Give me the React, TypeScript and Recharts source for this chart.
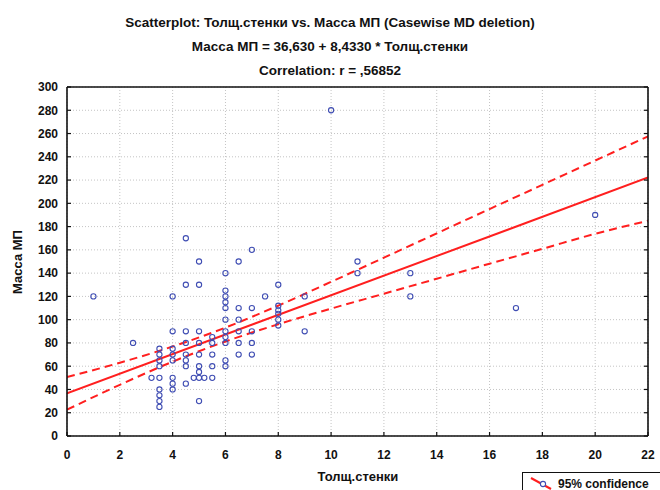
import { CartesianGrid, ComposedChart, Line, Scatter, XAxis, YAxis } from "recharts";

const FONT = '"Liberation Sans", Arial, sans-serif';

// Толщ.стенки (x) and Масса МП (y)
const WALL = [
  1, 2.5, 3.2,
  3.5, 3.5, 3.5, 3.5, 3.5, 3.5, 3.5, 3.5, 3.5,
  4, 4, 4, 4, 4, 4, 4, 4,
  4.5, 4.5, 4.5, 4.5, 4.5, 4.5, 4.5, 4.5,
  4.8,
  5, 5, 5, 5, 5, 5, 5, 5, 5,
  5.2,
  5.5, 5.5, 5.5, 5.5, 5.5,
  6, 6, 6, 6, 6, 6, 6, 6, 6, 6, 6,
  6.5, 6.5, 6.5, 6.5, 6.5, 6.5,
  7, 7, 7, 7, 7,
  7.5,
  8, 8, 8, 8, 8, 8,
  9, 9, 10, 11, 11, 13, 13, 17, 20,
];
const MASS = [
  120, 80, 50,
  75, 70, 65, 60, 50, 40, 35, 30, 25,
  120, 90, 75, 70, 65, 50, 45, 40,
  170, 130, 90, 80, 70, 65, 60, 45,
  50,
  150, 130, 90, 80, 70, 60, 55, 50, 30,
  50,
  85, 80, 70, 60, 50,
  140, 125, 120, 115, 110, 100, 90, 85, 80, 65, 60,
  150, 110, 100, 90, 80, 70,
  160, 110, 90, 80, 70,
  120,
  130, 112, 108, 105, 100, 95,
  120, 90, 280, 150, 140, 140, 120, 110, 190,
];

const FIT_X = [0, 22];
const FIT_Y = [36.63, 222.16];

const BAND_X = [0, 2, 4, 6, 8, 10, 12, 14, 16, 18, 20, 22];
const BAND_UPPER = [50.6, 63, 76.9, 93.2, 112.1, 132.5, 153.3, 174.2, 195.1, 215.9, 236.8, 257.5];
const BAND_LOWER = [22.6, 44, 63.9, 81.2, 96.1, 109.5, 122.3, 135.2, 148.1, 160.9, 173.8, 185];

const X_TICKS = [0, 2, 4, 6, 8, 10, 12, 14, 16, 18, 20, 22];
const Y_TICKS = [0, 20, 40, 60, 80, 100, 120, 140, 160, 180, 200, 220, 240, 260, 280, 300];

const points = WALL.map((x, i) => ({ x, y: MASS[i] }));
const fit = FIT_X.map((x, i) => ({ x, y: FIT_Y[i] }));
const upper = BAND_X.map((x, i) => ({ x, y: BAND_UPPER[i] }));
const lower = BAND_X.map((x, i) => ({ x, y: BAND_LOWER[i] }));

const GAP = 9;
const INK = "#111";
const RED = "#ff1f1f";
const BLUE = "#3f4db3";

function BottomTick({ x, y, payload }: any) {
  const ay = y - GAP;
  return (
    <g>
      <line x1={x} x2={x} y1={ay} y2={ay - 4} stroke={INK} strokeWidth={1.2} />
      <text x={x} y={ay + 23} textAnchor="middle" fontSize={12} fontWeight="bold" fill={INK} fontFamily={FONT}>
        {payload.value}
      </text>
    </g>
  );
}

function LeftTick({ x, y, payload }: any) {
  const ax = x + GAP;
  return (
    <g>
      <line x1={ax} x2={ax + 4} y1={y} y2={y} stroke={INK} strokeWidth={1.2} />
      <text x={ax - 9} y={y + 4.3} textAnchor="end" fontSize={12} fontWeight="bold" fill={INK} fontFamily={FONT}>
        {payload.value}
      </text>
    </g>
  );
}

function TopTick({ x, y }: any) {
  return <line x1={x} x2={x} y1={y} y2={y + 4} stroke={INK} strokeWidth={1.2} />;
}

function RightTick({ x, y }: any) {
  return <line x1={x} x2={x - 4} y1={y} y2={y} stroke={INK} strokeWidth={1.2} />;
}

const Ring = (p: any) => (
  <circle cx={p.cx} cy={p.cy} r={2.6} fill="none" stroke={BLUE} strokeWidth={1.1} />
);

const title: React.CSSProperties = {
  position: "absolute",
  left: 0,
  width: 660,
  textAlign: "center",
  fontSize: 13.5,
  fontWeight: "bold",
  lineHeight: "16px",
  color: INK,
};

export default function App() {
  return (
    <div style={{ position: "absolute", left: 0, top: 0, width: 660, height: 490, background: "#fff", fontFamily: FONT, overflow: "hidden" }}>
      <div style={{ ...title, top: 15 }}>Scatterplot: Толщ.стенки vs. Масса МП (Casewise MD deletion)</div>
      <div style={{ ...title, top: 39 }}>Масса МП = 36,630 + 8,4330 * Толщ.стенки</div>
      <div style={{ ...title, top: 63 }}>Correlation: r = ,56852</div>

      <ComposedChart width={660} height={490} margin={{ top: 86, right: 11, bottom: 0, left: 0 }}>
        <CartesianGrid strokeDasharray="1 2" stroke="#c4c4c4" />
        <XAxis
          dataKey="x"
          type="number"
          domain={[0, 22]}
          ticks={X_TICKS}
          interval={0}
          allowDataOverflow
          height={54}
          tickSize={0}
          tickMargin={GAP}
          tick={<BottomTick />}
          axisLine={{ stroke: INK, strokeWidth: 1.6 }}
        />
        <XAxis
          xAxisId="top"
          orientation="top"
          type="number"
          domain={[0, 22]}
          ticks={X_TICKS}
          interval={0}
          allowDataOverflow
          height={1}
          tickSize={0}
          tickMargin={0}
          tick={<TopTick />}
          axisLine={{ stroke: INK, strokeWidth: 1.6 }}
        />
        <YAxis
          type="number"
          domain={[0, 300]}
          ticks={Y_TICKS}
          interval={0}
          allowDataOverflow
          width={67}
          tickSize={0}
          tickMargin={GAP}
          tick={<LeftTick />}
          axisLine={{ stroke: INK, strokeWidth: 1.6 }}
        />
        <YAxis
          yAxisId="right"
          orientation="right"
          type="number"
          domain={[0, 300]}
          ticks={Y_TICKS}
          interval={0}
          allowDataOverflow
          width={1}
          tickSize={0}
          tickMargin={0}
          tick={<RightTick />}
          axisLine={{ stroke: INK, strokeWidth: 1.6 }}
        />
        <Line data={upper} dataKey="y" type="monotone" stroke={RED} strokeWidth={2} strokeDasharray="8 5" dot={false} isAnimationActive={false} />
        <Line data={lower} dataKey="y" type="monotone" stroke={RED} strokeWidth={2} strokeDasharray="8 5" dot={false} isAnimationActive={false} />
        <Line data={fit} dataKey="y" type="linear" stroke={RED} strokeWidth={2} dot={false} isAnimationActive={false} />
        <Scatter data={points} dataKey="y" shape={Ring} isAnimationActive={false} />
      </ComposedChart>

      <div
        style={{
          position: "absolute",
          left: 0,
          top: 254,
          width: 36,
          height: 16,
          textAlign: "center",
          fontSize: 13,
          fontWeight: "bold",
          lineHeight: "16px",
          color: INK,
          whiteSpace: "nowrap",
          transform: "rotate(-90deg)",
          display: "flex",
          justifyContent: "center",
        }}
      >
        Масса МП
      </div>
      <div style={{ ...title, fontSize: 13, left: 258, width: 200, top: 469 }}>Толщ.стенки</div>

      <div
        style={{
          position: "absolute",
          left: 522,
          top: 472,
          width: 150,
          height: 30,
          border: `1px solid ${INK}`,
          background: "#fff",
        }}
      >
        <svg width={30} height={20} style={{ position: "absolute", left: 6, top: 3 }}>
          <line x1={2} y1={2} x2={22} y2={13} stroke={RED} strokeWidth={2} />
          <circle cx={14} cy={8} r={2.6} fill="#fff" stroke={BLUE} strokeWidth={1.1} />
        </svg>
        <span
          style={{
            position: "absolute",
            left: 35,
            top: 3,
            fontSize: 12,
            fontWeight: "bold",
            lineHeight: "16px",
            color: INK,
            whiteSpace: "nowrap",
          }}
        >
          95% confidence
        </span>
      </div>
    </div>
  );
}
